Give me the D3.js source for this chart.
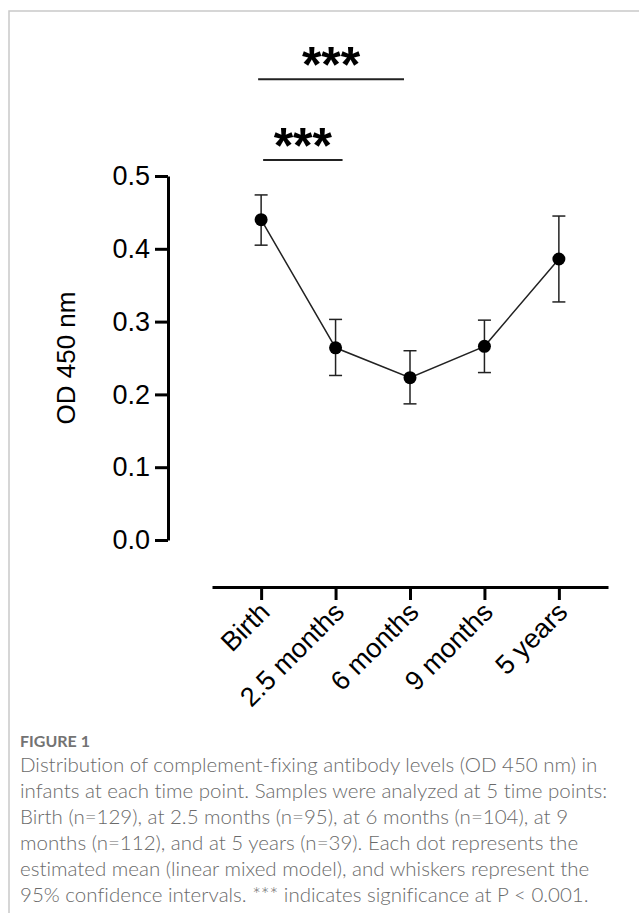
<!DOCTYPE html>
<html>
<head>
<meta charset="utf-8">
<script src="https://cdn.jsdelivr.net/npm/d3@7"></script>
<style>
  body { margin: 0; background: #fff; }
  svg { display: block; }
  .axis path, .axis line { stroke: #000; stroke-width: 3; }
  .axis text { font-family: "Liberation Sans", Arial, sans-serif; font-size: 27px; fill: #000; }
  .caption { font-family: "Lato", "Open Sans", sans-serif; fill: #6a6a6a; font-variant-ligatures: none; }
</style>
</head>
<body>
<div id="chart"></div>
<script>
// time points and estimated means with 95% CI
var categories = ["Birth", "2.5 months", "6 months", "9 months", "5 years"];
var means = [0.440, 0.264, 0.223, 0.266, 0.386];
var lower = [0.405, 0.226, 0.187, 0.230, 0.327];
var upper = [0.474, 0.303, 0.260, 0.302, 0.445];
var yTicks = [0.0, 0.1, 0.2, 0.3, 0.4, 0.5];

// significance brackets: from, to, height (OD units)
var sigFrom = ["Birth", "Birth"];
var sigTo = ["2.5 months", "6 months"];
var sigLevel = [0.522, 0.633];
var sigLabel = ["***", "***"];

var captionTitle = "FIGURE 1";
var captionLines = [
  "Distribution of complement-fixing antibody levels (OD 450 nm) in",
  "infants at each time point. Samples were analyzed at 5 time points:",
  "Birth (n=129), at 2.5 months (n=95), at 6 months (n=104), at 9",
  "months (n=112), and at 5 years (n=39). Each dot represents the",
  "estimated mean (linear mixed model), and whiskers represent the",
  "95% confidence intervals. *** indicates significance at P < 0.001."
];

var W = 639, H = 913;

var svg = d3.select("#chart").append("svg")
    .attr("width", W)
    .attr("height", H);

// frame (left and top rule)
svg.append("path")
    .attr("d", "M9," + H + "V11H" + W)
    .attr("fill", "none")
    .attr("stroke", "#c9c9c9")
    .attr("stroke-width", 1.5);

var x = d3.scalePoint()
    .domain(categories)
    .range([212, 608])
    .padding(0.66);

var y = d3.scaleLinear()
    .domain([0, 0.5])
    .range([540, 176]);

// y axis
svg.append("g")
    .attr("class", "axis")
    .attr("transform", "translate(168,0)")
    .call(d3.axisLeft(y).tickValues(yTicks).tickFormat(d3.format(".1f"))
      .tickSize(13).tickSizeOuter(0).tickPadding(5));

svg.append("text")
    .attr("transform", "translate(75,358) rotate(-90)")
    .attr("text-anchor", "middle")
    .style("font-family", "Liberation Sans, Arial, sans-serif")
    .style("font-size", "26px")
    .text("OD 450 nm");

// x axis
var xg = svg.append("g")
    .attr("class", "axis")
    .attr("transform", "translate(0,587)")
    .call(d3.axisBottom(x).tickSize(13).tickSizeOuter(0));

xg.selectAll(".tick text")
    .attr("text-anchor", "end")
    .attr("x", 0)
    .attr("y", 0)
    .attr("dy", "0.35em")
    .attr("transform", "translate(3,20) rotate(-45)");

// connecting line
var line = d3.line()
    .x(function(d, i) { return x(categories[i]); })
    .y(function(d) { return y(d); });

svg.append("path")
    .datum(means)
    .attr("d", line)
    .attr("fill", "none")
    .attr("stroke", "#222")
    .attr("stroke-width", 1.5);

// whiskers
var err = svg.append("g")
    .attr("stroke", "#222")
    .attr("stroke-width", 1.5)
    .attr("fill", "none");

categories.forEach(function(c, i) {
  var cx = x(c);
  err.append("line")
      .attr("x1", cx).attr("x2", cx)
      .attr("y1", y(lower[i])).attr("y2", y(upper[i]));
  err.append("line")
      .attr("x1", cx - 6.5).attr("x2", cx + 6.5)
      .attr("y1", y(lower[i])).attr("y2", y(lower[i]));
  err.append("line")
      .attr("x1", cx - 6.5).attr("x2", cx + 6.5)
      .attr("y1", y(upper[i])).attr("y2", y(upper[i]));
});

svg.append("g").selectAll("circle")
    .data(means)
  .enter().append("circle")
    .attr("cx", function(d, i) { return x(categories[i]); })
    .attr("cy", function(d) { return y(d); })
    .attr("r", 6.5)
    .attr("fill", "#000");

// significance bars (the short one runs a bit past its right tick in the original)
var nudgeL = [2, -3], nudgeR = [7, -6];
sigLevel.forEach(function(lv, i) {
  var x1 = x(sigFrom[i]) + nudgeL[i], x2 = x(sigTo[i]) + nudgeR[i];
  svg.append("line")
      .attr("x1", x1).attr("x2", x2)
      .attr("y1", y(lv)).attr("y2", y(lv))
      .attr("stroke", "#222")
      .attr("stroke-width", 2);
  svg.append("text")
      .attr("x", (x1 + x2) / 2)
      .attr("y", y(lv) + 3)
      .attr("text-anchor", "middle")
      .style("font-family", "Liberation Sans, Arial, sans-serif")
      .style("font-weight", "bold")
      .style("font-size", "50px")
      .text(sigLabel[i]);
});

// caption
svg.append("text")
    .attr("class", "caption")
    .attr("x", 20)
    .attr("y", 747)
    .style("font-size", "16px")
    .style("font-weight", "700")
    .style("fill", "#737373")
    .text(captionTitle);

svg.append("g").selectAll("text")
    .data(captionLines)
  .enter().append("text")
    .attr("class", "caption")
    .attr("x", 20)
    .attr("y", function(d, i) { return 772 + i * 26; })
    .style("font-size", "20.5px")
    .style("font-weight", "300")
    .text(function(d) { return d; });
</script>
</body>
</html>
